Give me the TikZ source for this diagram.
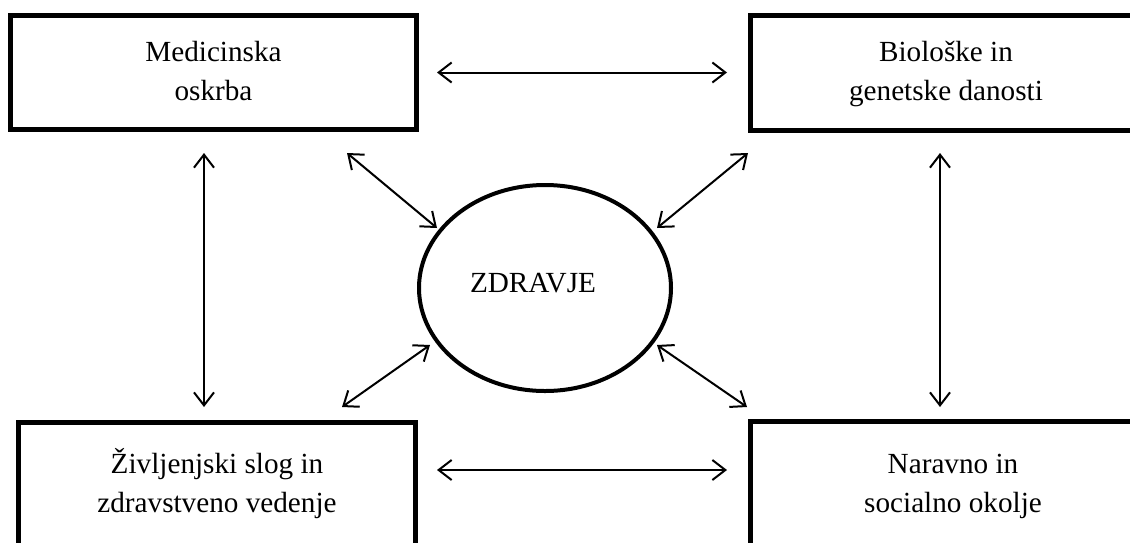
\documentclass[tikz,border=0pt]{standalone}
\usepackage{fontspec}
\setmainfont{Liberation Serif}
\usetikzlibrary{arrows.meta,shapes.geometric}
\begin{document}
\begin{tikzpicture}[x=1pt,y=-1pt,
  box/.style={draw,line width=5pt,inner sep=0pt},
  lbl/.style={font=\fontsize{29.2}{38.5}\selectfont,align=center,anchor=base,inner sep=0pt},
  arr/.style={line width=2pt,{Straight Barb[length=13pt,width=20pt,line width=2pt]}-{Straight Barb[length=13pt,width=20pt,line width=2pt]}}]
\useasboundingbox (0,0) rectangle (1130,542);
% boxes
\draw[box] (10.5,15.5) rectangle (416.5,129.5);
\node[inner sep=0pt] (tl) at (213.5,72.5) {};
\draw[box] (750,15.5) rectangle (1140,130);
\node[inner sep=0pt] (tr) at (945,72.5) {};
\draw[box] (18.5,422.5) rectangle (415.5,560);
\node[inner sep=0pt] (bl) at (217,490) {};
\draw[box] (750,421) rectangle (1140,560);
\node[inner sep=0pt] (br) at (945,490) {};
% texts (anchor = baseline of the last line)
\node[lbl] (tltext) at (213.5,100) {Medicinska\\oskrba};
\node[lbl] (trtext) at (946,100) {Biološke in\\genetske danosti};
\node[lbl] (bltext) at (217,512) {Življenjski slog in\\zdravstveno vedenje};
\node[lbl] (brtext) at (953,512) {Naravno in\\socialno okolje};
% ellipse
\node[draw,ellipse,line width=4pt,minimum width=252pt,minimum height=206pt,inner sep=0pt] (z) at (545,288) {};
\node[font=\fontsize{29.2}{35}\selectfont,anchor=base,inner sep=0pt] (ztext) at (533,292) {ZDRAVJE};
% arrow end points
\coordinate (h1a) at (437,72.5);
\coordinate (h1b) at (727,72.5);
\coordinate (h2a) at (437,470);
\coordinate (h2b) at (727,470);
\coordinate (v1a) at (204,153);
\coordinate (v1b) at (204,407);
\coordinate (v2a) at (940,153);
\coordinate (v2b) at (940,407);
\coordinate (d1a) at (347,153);
\coordinate (d1b) at (437,228);
\coordinate (d2a) at (748,153);
\coordinate (d2b) at (657,228);
\coordinate (d3a) at (342,407);
\coordinate (d3b) at (430,345);
\coordinate (d4a) at (747,407);
\coordinate (d4b) at (657,345);
\draw[arr] (h1a) -- (h1b);
\draw[arr] (h2a) -- (h2b);
\draw[arr] (v1a) -- (v1b);
\draw[arr] (v2a) -- (v2b);
\draw[arr] (d1a) -- (d1b);
\draw[arr] (d2a) -- (d2b);
\draw[arr] (d3a) -- (d3b);
\draw[arr] (d4a) -- (d4b);
\end{tikzpicture}
\end{document}
